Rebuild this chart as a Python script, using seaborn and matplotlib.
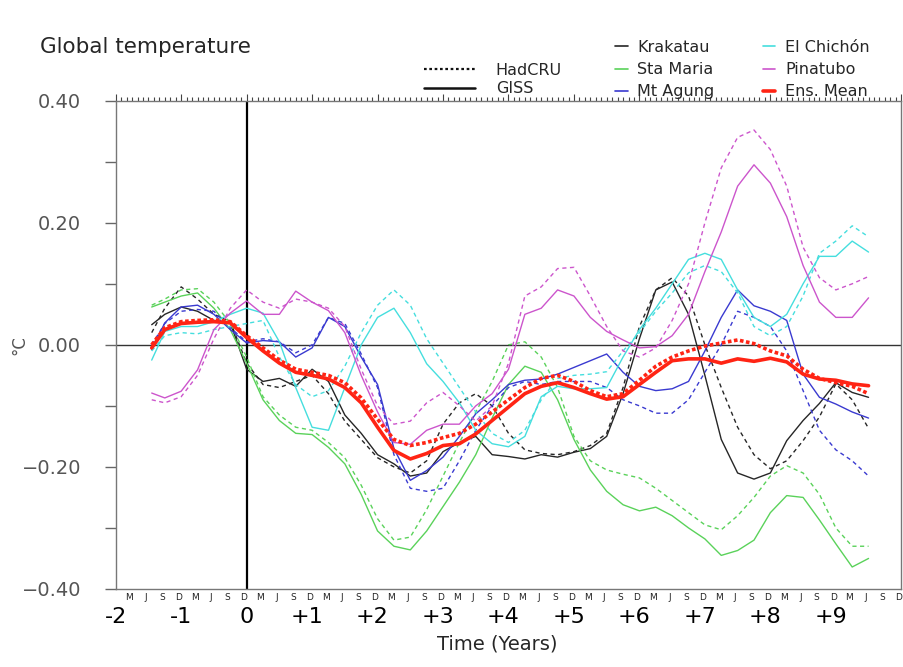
import numpy as np
import pandas as pd
import seaborn as sns
import matplotlib.pyplot as plt
from matplotlib.lines import Line2D
from matplotlib.ticker import MultipleLocator
from matplotlib.transforms import blended_transform_factory

# years relative to eruption (quarterly readings)
years = np.r_[-1.45, np.arange(-1.25, 9.51, 0.25)]

krakatau_giss = [0.033, 0.05, 0.062, 0.055, 0.04, 0.036, -0.04,
                 -0.06, -0.055, -0.068, -0.04, -0.06, -0.115, -0.145,
                 -0.18, -0.195, -0.215, -0.21, -0.175, -0.16, -0.15,
                 -0.18, -0.183, -0.187, -0.18, -0.184, -0.176, -0.17,
                 -0.15, -0.08, 0.01, 0.09, 0.103, 0.05, -0.05,
                 -0.155, -0.21, -0.22, -0.21, -0.157, -0.124, -0.096,
                 -0.062, -0.078, -0.086]
krakatau_hadcru = [0.02, 0.06, 0.095, 0.075, 0.05, 0.038, -0.03,
                   -0.065, -0.07, -0.06, -0.05, -0.08, -0.125, -0.155,
                   -0.185, -0.2, -0.21, -0.19, -0.13, -0.095, -0.08,
                   -0.1, -0.145, -0.172, -0.178, -0.18, -0.175, -0.165,
                   -0.145, -0.07, 0.03, 0.09, 0.11, 0.08, 0.0,
                   -0.07, -0.135, -0.18, -0.203, -0.19, -0.157, -0.118,
                   -0.064, -0.09, -0.137]
stamaria_giss = [0.062, 0.07, 0.08, 0.085, 0.06, 0.025, -0.03,
                 -0.09, -0.124, -0.145, -0.147, -0.168, -0.195, -0.245,
                 -0.305, -0.33, -0.336, -0.305, -0.265, -0.225, -0.18,
                 -0.12, -0.065, -0.035, -0.045, -0.09, -0.155, -0.205,
                 -0.24, -0.262, -0.272, -0.266, -0.28, -0.3, -0.318,
                 -0.345, -0.337, -0.32, -0.275, -0.247, -0.25, -0.287,
                 -0.326, -0.364, -0.35]
stamaria_hadcru = [0.065, 0.075, 0.09, 0.092, 0.07, 0.035, -0.02,
                   -0.085, -0.115, -0.135, -0.14, -0.16, -0.185, -0.23,
                   -0.285, -0.32, -0.315, -0.27, -0.215, -0.16, -0.11,
                   -0.06, 0.0, 0.005, -0.02, -0.07, -0.15, -0.19,
                   -0.205, -0.212, -0.218, -0.235, -0.255, -0.275, -0.295,
                   -0.303, -0.28, -0.25, -0.215, -0.198, -0.21, -0.245,
                   -0.3, -0.33, -0.33]
agung_giss = [-0.008, 0.036, 0.062, 0.065, 0.05, 0.025, 0.003,
              0.007, 0.005, -0.02, -0.005, 0.045, 0.03, -0.02,
              -0.065, -0.17, -0.222, -0.206, -0.184, -0.15, -0.113,
              -0.09, -0.065, -0.058, -0.056, -0.048, -0.037, -0.026,
              -0.015, -0.045, -0.068, -0.075, -0.072, -0.06, -0.01,
              0.045, 0.09, 0.064, 0.055, 0.04, -0.048, -0.086,
              -0.097, -0.11, -0.12]
agung_hadcru = [0.0, 0.035, 0.055, 0.058, 0.055, 0.028, 0.005,
                0.01, 0.005, -0.013, 0.0, 0.045, 0.035, -0.015,
                -0.07, -0.18, -0.235, -0.24, -0.235, -0.19, -0.14,
                -0.1, -0.07, -0.06, -0.065, -0.06, -0.06, -0.06,
                -0.07, -0.09, -0.1, -0.112, -0.112, -0.09, -0.045,
                0.0, 0.055, 0.045, 0.03, -0.01, -0.075, -0.14,
                -0.172, -0.19, -0.215]
chichon_giss = [-0.025, 0.022, 0.03, 0.03, 0.038, 0.05, 0.06,
                0.052, 0.005, -0.07, -0.135, -0.14, -0.07, 0.0,
                0.045, 0.06, 0.02, -0.031, -0.06, -0.095, -0.14,
                -0.162, -0.167, -0.15, -0.085, -0.068, -0.072, -0.072,
                -0.07, -0.02, 0.025, 0.06, 0.1, 0.14, 0.15,
                0.14, 0.09, 0.045, 0.03, 0.05, 0.1, 0.145,
                0.145, 0.17, 0.152]
chichon_hadcru = [-0.01, 0.015, 0.02, 0.018, 0.025, 0.03, 0.035,
                  0.04, -0.02, -0.065, -0.085, -0.075, -0.035, 0.02,
                  0.065, 0.09, 0.065, 0.01, -0.03, -0.07, -0.11,
                  -0.145, -0.16, -0.14, -0.09, -0.055, -0.05, -0.048,
                  -0.044, -0.01, 0.02, 0.055, 0.085, 0.118, 0.13,
                  0.12, 0.085, 0.03, 0.015, 0.03, 0.08, 0.15,
                  0.17, 0.195, 0.177]
pinatubo_giss = [-0.079, -0.087, -0.076, -0.041, 0.025, 0.052, 0.072,
                 0.05, 0.05, 0.088, 0.07, 0.056, 0.02, -0.05,
                 -0.11, -0.16, -0.163, -0.14, -0.13, -0.13, -0.1,
                 -0.08, -0.04, 0.05, 0.06, 0.09, 0.08, 0.045,
                 0.022, 0.008, -0.005, -0.003, 0.015, 0.05, 0.12,
                 0.185, 0.26, 0.295, 0.265, 0.21, 0.13, 0.07,
                 0.045, 0.045, 0.077]
pinatubo_hadcru = [-0.09, -0.095, -0.085, -0.05, 0.01, 0.06, 0.09,
                   0.07, 0.06, 0.075, 0.07, 0.06, 0.03, -0.04,
                   -0.1, -0.13, -0.125, -0.095, -0.078, -0.1, -0.125,
                   -0.1, -0.03, 0.08, 0.095, 0.125, 0.127, 0.08,
                   0.03, -0.01, -0.02, -0.005, 0.04, 0.1, 0.2,
                   0.29, 0.34, 0.352, 0.32, 0.26, 0.16, 0.11,
                   0.09, 0.1, 0.112]
ens_giss = [-0.005, 0.025, 0.035, 0.037, 0.038, 0.036, 0.012,
            -0.01, -0.03, -0.045, -0.05, -0.056, -0.07, -0.095,
            -0.135, -0.173, -0.187, -0.178, -0.165, -0.162, -0.146,
            -0.124, -0.102, -0.08, -0.068, -0.062, -0.07, -0.08,
            -0.089, -0.085, -0.065, -0.045, -0.026, -0.023, -0.023,
            -0.03, -0.023, -0.027, -0.022, -0.028, -0.048, -0.056,
            -0.058, -0.064, -0.067]
ens_hadcru = [0.0, 0.028, 0.038, 0.04, 0.041, 0.038, 0.015,
              -0.005, -0.025, -0.04, -0.045, -0.05, -0.062, -0.087,
              -0.122, -0.155, -0.165, -0.16, -0.152, -0.145, -0.13,
              -0.11, -0.09, -0.07, -0.055, -0.05, -0.06, -0.075,
              -0.085, -0.08, -0.058, -0.035, -0.02, -0.01, -0.002,
              0.003, 0.008, 0.002, -0.01, -0.018, -0.04, -0.055,
              -0.062, -0.068, -0.08]

series = {
    ('Krakatau', 'HadCRU'): krakatau_hadcru, ('Krakatau', 'GISS'): krakatau_giss,
    ('Sta Maria', 'HadCRU'): stamaria_hadcru, ('Sta Maria', 'GISS'): stamaria_giss,
    ('Mt Agung', 'HadCRU'): agung_hadcru, ('Mt Agung', 'GISS'): agung_giss,
    ('El Chichón', 'HadCRU'): chichon_hadcru, ('El Chichón', 'GISS'): chichon_giss,
    ('Pinatubo', 'HadCRU'): pinatubo_hadcru, ('Pinatubo', 'GISS'): pinatubo_giss,
    ('Ens. Mean', 'HadCRU'): ens_hadcru, ('Ens. Mean', 'GISS'): ens_giss,
}
df = pd.concat([pd.DataFrame({'year': years, 'anomaly': v, 'event': e, 'dataset': d})
                for (e, d), v in series.items()], ignore_index=True)

colors = {'Krakatau': '#262626', 'Sta Maria': '#5ad25a', 'Mt Agung': '#3a3ad0',
          'El Chichón': '#45dede', 'Pinatubo': '#cc55cc', 'Ens. Mean': '#ff2414'}

sns.set_theme(style='white')
plt.rcParams['font.family'] = ['DejaVu Sans']

fig = plt.figure(figsize=(9.04, 6.67), dpi=100)
ax = fig.add_axes([0.128, 0.117, 0.869, 0.732])

ax.axhline(0, color='#333333', lw=1.0, zorder=1)
ax.axvline(0, color='black', lw=1.6, zorder=1)

vol = df[df.event != 'Ens. Mean']
sns.lineplot(data=vol, x='year', y='anomaly', hue='event', style='dataset',
             palette={k: v for k, v in colors.items() if k != 'Ens. Mean'},
             dashes={'HadCRU': (3, 2.5), 'GISS': ''}, linewidth=1.0,
             estimator=None, legend=False, ax=ax, zorder=2)
ens = df[df.event == 'Ens. Mean']
sns.lineplot(data=ens, x='year', y='anomaly', style='dataset', color=colors['Ens. Mean'],
             dashes={'HadCRU': (1, 0.7), 'GISS': ''}, linewidth=2.6,
             estimator=None, legend=False, ax=ax, zorder=3)

ax.set_xlim(-2, 10.0)
ax.set_ylim(-0.4, 0.4)
ax.set_xlabel('')
ax.set_ylabel('')
ax.xaxis.set_major_locator(MultipleLocator(1))
ax.xaxis.set_minor_locator(MultipleLocator(1 / 12))
ax.yaxis.set_minor_locator(MultipleLocator(0.1))
ax.set_yticks([0.4, 0.2, 0.0, -0.2, -0.4])
ax.set_yticklabels(['0.40', '0.20', '0.00', '\u22120.20', '\u22120.40'])
ax.tick_params(axis='x', which='both', direction='out', top=True, labelbottom=False,
               color='#444444', width=0.8)
ax.tick_params(axis='x', which='major', length=5)
ax.tick_params(axis='x', which='minor', length=3)
ax.tick_params(axis='y', which='both', direction='out', length=8, width=1, pad=17,
               color='#666666', labelsize=14, labelcolor='#555555', left=True)
for s in ax.spines.values():
    s.set_color('#777777')
    s.set_linewidth(1.0)

# month letters and year labels under the axis
trans = blended_transform_factory(ax.transData, ax.transAxes)
for yr in range(-2, 10):
    for m, lab in [(3, 'M'), (6, 'J'), (9, 'S'), (12, 'D')]:
        ax.text(yr + (m - 0.5) / 12, -0.018, lab, transform=trans,
                ha='center', va='center', fontsize=6.5, color='#222222')
year_pos = [-2.0, -1.0, 0.0] + [n - 0.08 for n in range(1, 10)]
year_lab = ['-2', '-1', '0'] + ['+%d' % n for n in range(1, 10)]
for p, lab in zip(year_pos, year_lab):
    ax.text(p, -0.058, lab, transform=trans, ha='center', va='center',
            fontsize=16, color='black')

fig.text(497 / 904, 1 - 644 / 667, 'Time (Years)', ha='center', va='center', fontsize=14)
fig.text(19 / 904, 1 - 345 / 667, '\u00b0C', rotation=90, ha='center', va='center',
         fontsize=12, color='#555555')
fig.text(40 / 904, 1 - 47 / 667, 'Global temperature', ha='left', va='center', fontsize=15.5)

h1 = [Line2D([], [], color='#111111', lw=1.6, ls=(0, (1.2, 1.2))),
      Line2D([], [], color='#111111', lw=1.8)]
fig.legend(h1, ['HadCRU', 'GISS'], loc='upper left',
           bbox_to_anchor=(424 / 904, 1 - 63 / 667), frameon=False,
           handlelength=3.2, handletextpad=1.3, labelspacing=0.2,
           fontsize=11.5, borderpad=0, borderaxespad=0)
names = ['Krakatau', 'Sta Maria', 'Mt Agung', 'El Chichón', 'Pinatubo', 'Ens. Mean']
h2 = [Line2D([], [], color=colors[n], lw=2.6 if n == 'Ens. Mean' else 1.2) for n in names]
fig.legend(h2, names, loc='upper left', ncol=2,
           bbox_to_anchor=(615 / 904, 1 - 40 / 667), frameon=False,
           handlelength=0.8, handletextpad=0.6, labelspacing=0.45, columnspacing=3.0,
           fontsize=11.5, borderpad=0, borderaxespad=0)

fig.savefig('out.png', dpi=100)
